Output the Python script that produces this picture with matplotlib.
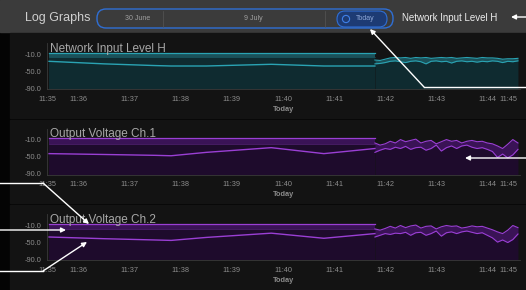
import matplotlib
matplotlib.use("Agg")
import matplotlib.pyplot as plt
from matplotlib.patches import Rectangle, FancyBboxPatch, Circle

plt.rcParams["font.family"] = ["Liberation Sans", "DejaVu Sans"]

W, H = 526, 290

# ─── data (time in minutes past 11:00, level in dB) ───────────────────────────
tick_pos = [35.38, 36, 37, 38, 39, 40, 41, 42, 43, 44, 44.41]
tick_lab = ["11:35", "11:36", "11:37", "11:38", "11:39", "11:40",
            "11:41", "11:42", "11:43", "11:44", "11:45"]
y_ticks = [-10, -50, -90]
y_labels = ["-10.0", "-50.0", "-90.0"]

titles = ["Network Input Level H", "Output Voltage Ch.1", "Output Voltage Ch.2"]

# sparse (historic) section
t_sparse = [35.42, 36.5, 37.5, 37.81, 38.5, 39.77, 40.8, 41.8]
net_max = [-8, -8, -8, -8, -8, -8, -8, -8]
net_mid = [-18, -18, -18, -18, -18, -18, -18, -18]
net_avg = [-27, -33, -37, -38, -38, -34, -38, -38]
ch1_max = [-7, -7, -7, -7, -7, -7, -7, -7]
ch1_mid = [-20, -20, -20, -20, -20, -20, -20, -20]
ch1_avg = [-43, -45, -47, -48, -40, -29, -43, -31]
ch2_max = [-7, -7, -7, -7, -7, -7, -7, -7]
ch2_mid = [-19, -19, -19, -19, -19, -19, -19, -19]
ch2_avg = [-38, -42, -45, -46, -39, -29, -41, -30]

# dense (live) section
t_dense = [41.8, 41.9, 42.0, 42.1, 42.2, 42.3, 42.4, 42.5, 42.6, 42.7,
           42.8, 42.9, 43.0, 43.1, 43.2, 43.3, 43.4, 43.5, 43.6, 43.7,
           43.8, 43.9, 44.0, 44.1, 44.2, 44.3, 44.4, 44.5, 44.6]
net_hi = [-24, -25, -22, -19, -18, -19, -18, -20, -18, -19, -18, -20, -19, -18, -19,
          -18, -20, -19, -18, -19, -20, -18, -19, -19, -20, -22, -21, -21, -20]
net_lo = [-33, -32, -30, -27, -26, -28, -30, -27, -26, -28, -33, -27, -26, -28, -27,
          -31, -27, -26, -28, -27, -29, -27, -28, -26, -27, -30, -27, -28, -26]
ch1_hi = [-18, -23, -20, -14, -18, -10, -15, -12, -9, -18, -14, -12, -20, -15, -10,
          -14, -12, -18, -14, -12, -15, -14, -18, -20, -25, -31, -21, -10, -18]
ch1_lo = [-40, -35, -31, -33, -28, -31, -26, -33, -29, -28, -35, -31, -23, -37, -29,
          -25, -31, -25, -23, -28, -31, -29, -33, -38, -52, -44, -53, -46, -33]
ch2_hi = [-19, -22, -18, -13, -17, -11, -16, -12, -10, -17, -13, -12, -19, -14, -11,
          -13, -12, -17, -15, -12, -14, -13, -17, -21, -26, -30, -22, -11, -16]
ch2_lo = [-38, -34, -30, -32, -29, -30, -27, -34, -28, -27, -34, -30, -24, -36, -28,
          -26, -30, -26, -24, -27, -30, -28, -34, -40, -50, -45, -51, -44, -31]

panels = [
    (net_max, net_mid, net_avg, net_hi, net_lo, "#2aa3b3", "#0f2b30", "#1b5159"),
    (ch1_max, ch1_mid, ch1_avg, ch1_hi, ch1_lo, "#9a3fd4", "#1e0b2c", "#3a1356"),
    (ch2_max, ch2_mid, ch2_avg, ch2_hi, ch2_lo, "#9a3fd4", "#1e0b2c", "#3a1356"),
]

# ─── figure + background chrome ───────────────────────────────────────────────
fig = plt.figure(figsize=(W / 100, H / 100), dpi=100, facecolor="#040404")
bg = fig.add_axes([0, 0, 1, 1], zorder=0)
bg.set_xlim(0, W)
bg.set_ylim(H, 0)
bg.axis("off")

bg.add_patch(Rectangle((0, 0), W, 32, color="#3b3b3b"))
for top, bot in [(33, 118), (120, 203), (205, 290)]:
    bg.add_patch(Rectangle((10, top), W - 10, bot - top, color="#131313"))

bg.text(25, 18, "Log Graphs", fontsize=9, color="#cfcfcf", va="center")
bg.add_patch(FancyBboxPatch((97, 9), 296, 19, boxstyle="round,pad=0,rounding_size=9",
                            fc="none", ec="#2f6fd6", lw=1))
bg.add_patch(FancyBboxPatch((337, 11), 50, 16, boxstyle="round,pad=0,rounding_size=8",
                            fc="#1d3b74", ec="#2f6fd6", lw=0.8))
bg.add_patch(Circle((346, 19), 3.6, fc="none", ec="#3f80e8", lw=0.8))
for xs in (163, 325):
    bg.plot([xs, xs], [11, 27], color="#555555", lw=0.5)
bg.text(138, 19, "30 June", fontsize=5, color="#a0a0a0", ha="center", va="center")
bg.text(253, 19, "9 July", fontsize=5, color="#a0a0a0", ha="center", va="center")
bg.text(365, 19, "Today", fontsize=5, color="#8fa8d8", ha="center", va="center")
bg.text(402, 18, "Network Input Level H", fontsize=7, color="#ececec", va="center")

# ─── the three log panels ─────────────────────────────────────────────────────
for k, (mx, md, av, hi, lo, lc, dark, band) in enumerate(panels):
    top = 43 + 85.5 * k
    ax = fig.add_axes([47 / W, 1 - (top + 46) / H, 473 / W, 46 / H], zorder=1)
    ax.set_facecolor("none")
    ax.set_xlim(35.415, 44.64)
    ax.set_ylim(-92, 16)

    ax.fill_between(t_sparse, -92, mx, color=dark, lw=0)
    ax.fill_between(t_sparse, md, mx, color=band, lw=0)
    ax.plot(t_sparse, mx, color=lc, lw=0.9)
    ax.plot(t_sparse, md, color=lc, lw=0.5, alpha=0.45)
    ax.plot(t_sparse, av, color=lc, lw=1.0)

    ax.fill_between(t_dense, -92, hi, color=dark, lw=0)
    ax.fill_between(t_dense, lo, hi, color=band, lw=0)
    ax.plot(t_dense, hi, color=lc, lw=0.8)
    ax.plot(t_dense, lo, color=lc, lw=0.8)

    for s in ("top", "right"):
        ax.spines[s].set_visible(False)
    for s in ("left", "bottom"):
        ax.spines[s].set_color("#3a3a3a")
        ax.spines[s].set_linewidth(0.6)

    ax.set_yticks(y_ticks)
    ax.set_yticklabels(y_labels)
    ax.set_xticks(tick_pos)
    ax.set_xticklabels(tick_lab)
    ax.tick_params(length=0, labelsize=5.3, colors="#8c8c8c")
    ax.tick_params(axis="x", pad=5)
    ax.tick_params(axis="y", pad=4)
    ax.set_xlabel("Today", fontsize=5.3, color="#8c8c8c", fontweight="bold", labelpad=2)

    ax.text(0.006, 0.87, titles[k], transform=ax.transAxes, fontsize=8.5,
            color="#a8a8a8", va="center", zorder=10)

# ─── annotation arrows ────────────────────────────────────────────────────────
ov = fig.add_axes([0, 0, 1, 1], zorder=5)
ov.set_xlim(0, W)
ov.set_ylim(H, 0)
ov.axis("off")
ov.patch.set_alpha(0)

callouts = [
    [(526, 17), (511, 17)],
    [(526, 87), (424, 87), (370, 29)],
    [(526, 158), (465, 158)],
    [(0, 183), (43, 183), (89, 224)],
    [(0, 230), (66, 230)],
    [(0, 271), (43, 271), (87, 242)],
]
for path in callouts:
    xs = [p[0] for p in path[:-1]]
    ys = [p[1] for p in path[:-1]]
    if len(xs) > 1:
        ov.plot(xs, ys, color="white", lw=1)
    ov.annotate("", xy=path[-1], xytext=path[-2],
                arrowprops=dict(arrowstyle="-|>", color="white", lw=1,
                                mutation_scale=7, shrinkA=0, shrinkB=0))

fig.savefig("out.png", dpi=100, facecolor=fig.get_facecolor())
